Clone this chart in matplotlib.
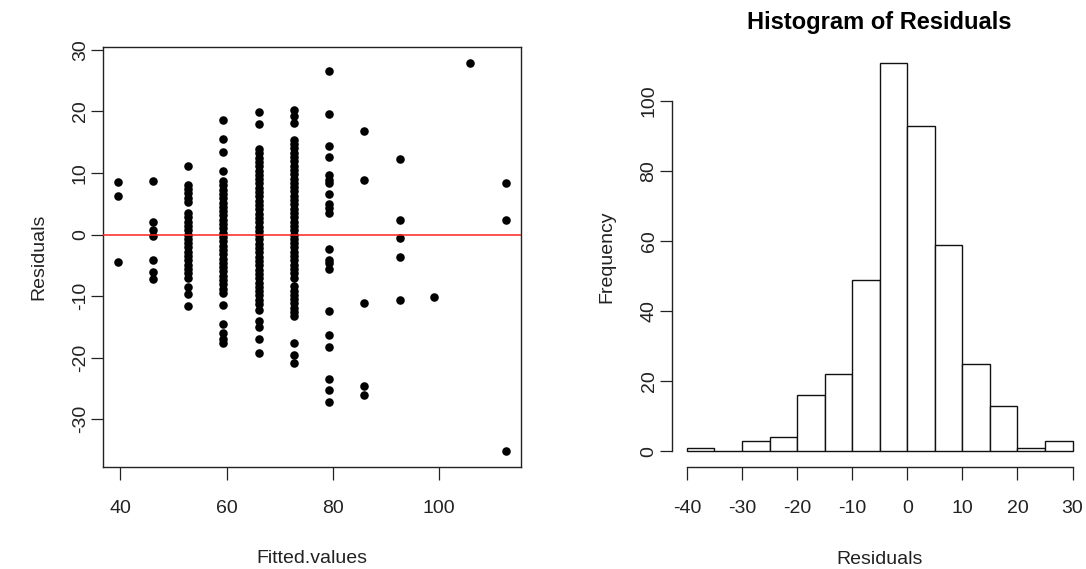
import matplotlib
matplotlib.use("Agg")
import matplotlib.pyplot as plt

plt.rcParams["font.family"] = ["Liberation Sans", "DejaVu Sans"]
plt.rcParams["axes.unicode_minus"] = False

# fitted value levels (x positions of the point columns)
fitted_levels = [39.6, 46.2, 52.8, 59.4, 66.1, 72.7, 79.2, 85.9, 92.6, 99.1, 105.8, 112.5]

# residuals seen in each column (stacked points)
residual_groups = [
    [8.5, 6.3, -4.4],
    [8.7, 2.0, 0.8, -0.3, -4.2, -6.1, -7.3],
    [11.1, 8.1, 7.4, 6.7, 6.0, 5.3, 3.5, 2.8, 2.1, 1.4, 0.7, 0.0, -0.7, -1.4,
     -2.1, -2.8, -3.5, -4.2, -4.9, -5.6, -6.3, -7.0, -8.5, -9.6, -11.6],
    [18.6, 15.5, 13.4, 10.4, 8.7, 8.0, 7.3, 6.6, 5.9, 5.2, 4.5, 3.8, 3.1, 2.4,
     1.7, 1.0, 0.3, -0.4, -1.1, -1.8, -2.5, -3.2, -3.9, -4.6, -5.3, -6.0,
     -6.7, -7.4, -8.1, -8.8, -9.5, -11.5, -14.5, -16.0, -17.0, -17.6],
    [19.9, 17.9, 13.9, 13.2, 12.5, 11.8, 11.1, 10.4, 9.7, 9.0, 8.3, 7.6, 6.9,
     6.2, 5.5, 4.8, 4.1, 3.4, 2.7, 2.0, 1.3, 0.6, -0.1, -0.8, -1.5, -2.2,
     -2.9, -3.6, -4.3, -5.0, -5.7, -6.4, -7.1, -7.8, -8.5, -9.2, -9.9,
     -10.6, -11.3, -12.2, -14.1, -15.0, -17.0, -19.2],
    [20.3, 19.3, 18.2, 15.4, 14.7, 14.0, 13.3, 12.6, 11.9, 11.2, 10.5, 9.8,
     9.1, 8.4, 7.7, 7.0, 6.3, 5.6, 4.9, 4.2, 3.5, 2.8, 2.1, 1.4, 0.7, 0.0,
     -0.7, -1.4, -2.1, -2.8, -3.5, -4.2, -4.9, -5.6, -6.3, -7.0, -8.4, -9.1,
     -9.8, -10.5, -11.2, -11.9, -12.6, -13.3, -17.6, -19.5, -20.8],
    [26.6, 19.6, 14.4, 12.6, 9.7, 8.9, 8.4, 6.6, 5.0, 4.3, 3.5, -2.3, -4.1,
     -4.7, -5.6, -12.4, -16.3, -18.2, -23.4, -25.3, -27.2],
    [16.9, 8.9, -11.1, -24.6, -26.0],
    [12.3, 2.3, -0.6, -3.6, -10.6],
    [-10.2],
    [27.9],
    [8.3, 2.3, -35.2],
]

hist_edges = [-40, -35, -30, -25, -20, -15, -10, -5, 0, 5, 10, 15, 20, 25, 30]
hist_counts = [1, 0, 3, 4, 16, 22, 49, 111, 93, 59, 25, 13, 1, 3]

x_ticks = [40, 60, 80, 100]
y_ticks = [-30, -20, -10, 0, 10, 20, 30]
hist_x_ticks = [-40, -30, -20, -10, 0, 10, 20, 30]
hist_y_ticks = [0, 20, 40, 60, 80, 100]

FS = 14
W, H = 1086, 569


def r_range(lo, hi):
    # R pads the data range by 4% on each side
    d = (hi - lo) * 0.04
    return lo - d, hi + d


fig = plt.figure(figsize=(W / 100, H / 100), dpi=100)

# --- residuals vs fitted ---
ax1 = fig.add_axes([102.7 / W, 1 - 466.7 / H, 418.3 / W, 419.4 / H])
xs, ys = [], []
for fv, grp in zip(fitted_levels, residual_groups):
    xs += [fv] * len(grp)
    ys += grp
ax1.scatter(xs, ys, s=38, color="black", linewidths=0, zorder=3)
ax1.axhline(0, color="#ff2020", lw=1.1, zorder=4)
ax1.set_xlim(*r_range(min(xs), max(xs)))
ax1.set_ylim(*r_range(min(ys), max(ys)))
ax1.set_xticks(x_ticks)
ax1.set_yticks(y_ticks)
for sp in ax1.spines.values():
    sp.set_linewidth(1.0)
    sp.set_color("#222222")
ax1.tick_params(axis="both", length=9, width=0.9, labelsize=FS, direction="out",
                colors="#222222")
ax1.tick_params(axis="x", pad=15)
ax1.tick_params(axis="y", pad=1, labelrotation=90)
for lab in ax1.get_yticklabels():
    lab.set_va("center")
ax1.set_xlabel("Fitted.values", fontsize=FS, color="#222222")
ax1.set_ylabel("Residuals", fontsize=FS, color="#222222")
ax1.xaxis.set_label_coords(0.5, -0.199)
ax1.yaxis.set_label_coords(-0.133, 0.5)

# --- histogram ---
ax2 = fig.add_axes([671.5 / W, 1 - 467 / H, 416.5 / W, 420 / H])
ax2.bar(hist_edges[:-1], hist_counts, width=5, align="edge",
        facecolor="white", edgecolor="#111111", linewidth=1.0)
ax2.set_xlim(*r_range(hist_edges[0], hist_edges[-1]))
ax2.set_ylim(*r_range(0, max(hist_counts)))
ax2.set_xticks(hist_x_ticks)
ax2.set_yticks(hist_y_ticks)
ax2.spines["top"].set_visible(False)
ax2.spines["right"].set_visible(False)
ax2.spines["left"].set_bounds(hist_y_ticks[0], hist_y_ticks[-1])
ax2.spines["bottom"].set_bounds(hist_x_ticks[0], hist_x_ticks[-1])
for side in ("left", "bottom"):
    ax2.spines[side].set_linewidth(1.0)
    ax2.spines[side].set_color("#222222")
ax2.tick_params(axis="both", length=9, width=0.9, labelsize=FS, direction="out",
                colors="#222222")
ax2.tick_params(axis="x", pad=15)
ax2.tick_params(axis="y", pad=1, labelrotation=90)
for lab in ax2.get_yticklabels():
    lab.set_va("center")
ax2.set_xlabel("Residuals", fontsize=FS, color="#222222")
ax2.set_ylabel("Frequency", fontsize=FS, color="#222222")
ax2.xaxis.set_label_coords(0.5, -0.199)
ax2.yaxis.set_label_coords(-0.1345, 0.5)
ax2.set_title("Histogram of Residuals", fontsize=17, fontweight="bold", pad=13)

fig.savefig("out.png", dpi=100)
